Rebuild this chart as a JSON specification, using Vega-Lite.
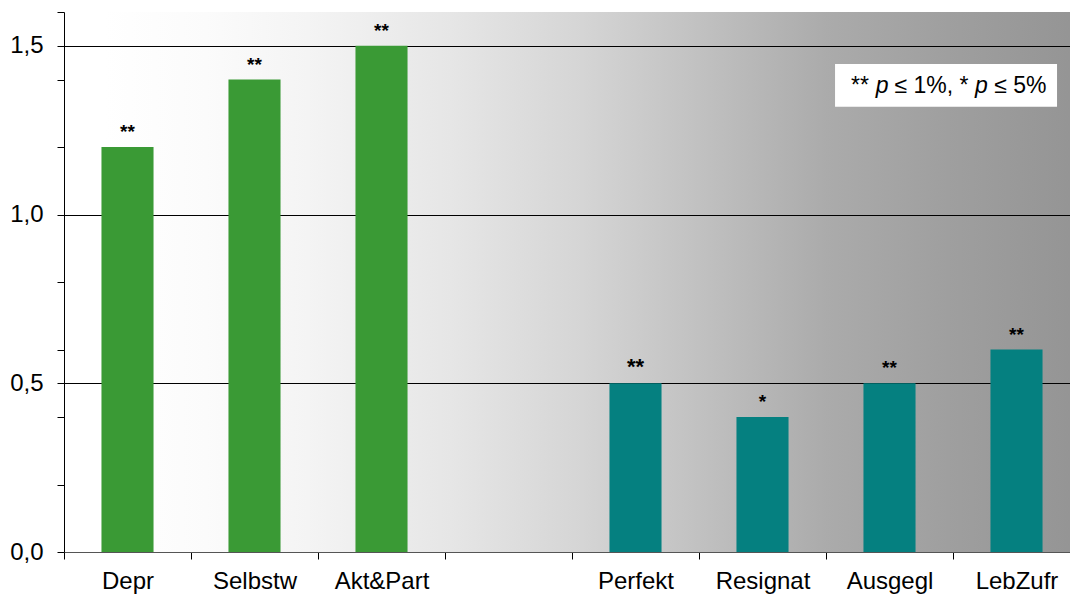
{
  "$schema": "https://vega.github.io/schema/vega-lite/v6.json",
  "width": 1016,
  "height": 540,
  "autosize": {"type": "none"},
  "padding": {"left": 64, "top": 12, "right": 0, "bottom": 42},
  "background": "white",
  "config": {
    "font": "Liberation Sans",
    "view": {
      "stroke": null,
      "fill": {
        "gradient": "linear", "x1": 0, "y1": 0, "x2": 1, "y2": 0,
        "stops": [
          {"offset": 0, "color": "#ffffff"},
          {"offset": 0.04, "color": "#ffffff"},
          {"offset": 0.14, "color": "#fbfbfb"},
          {"offset": 0.24, "color": "#f4f4f4"},
          {"offset": 0.38, "color": "#e6e6e6"},
          {"offset": 0.51, "color": "#d5d5d5"},
          {"offset": 0.63, "color": "#c0c0c0"},
          {"offset": 0.75, "color": "#ababab"},
          {"offset": 0.87, "color": "#9f9f9f"},
          {"offset": 1, "color": "#949494"}
        ]
      }
    }
  },
  "datasets": {
    "bars": [
      {"cat": "Depr", "v": 1.2, "grp": "A", "sig": "**"},
      {"cat": "Selbstw", "v": 1.4, "grp": "A", "sig": "**"},
      {"cat": "Akt&Part", "v": 1.5, "grp": "A", "sig": "**"},
      {"cat": "Perfekt", "v": 0.5, "grp": "B", "sig": "**"},
      {"cat": "Resignat", "v": 0.4, "grp": "B", "sig": "*"},
      {"cat": "Ausgegl", "v": 0.5, "grp": "B", "sig": "**"},
      {"cat": "LebZufr", "v": 0.6, "grp": "B", "sig": "**"}
    ],
    "note": [
      {"piece": "**", "pos": 0.7746, "kind": "normal"},
      {"piece": "p", "pos": 0.7990, "kind": "italic"},
      {"piece": "≤ 1%, *", "pos": 0.8174, "kind": "normal"},
      {"piece": "p", "pos": 0.8966, "kind": "italic"},
      {"piece": "≤ 5%", "pos": 0.9155, "kind": "normal"}
    ],
    "box": [
      {"x0": 0.7589, "x1": 0.9774, "y0": 1.319, "y1": 1.446}
    ]
  },
  "layer": [
    {
      "data": {"name": "bars"},
      "encoding": {
        "x": {
          "field": "cat", "type": "nominal",
          "scale": {"domain": ["Depr", "Selbstw", "Akt&Part", " ", "Perfekt", "Resignat", "Ausgegl", "LebZufr"], "paddingInner": 0, "paddingOuter": 0},
          "axis": {
            "title": null, "labelAngle": 0, "labelFontSize": 24, "labelColor": "black",
            "labelFont": "Liberation Sans",
            "tickBand": "extent", "tickSize": 7, "tickColor": "black",
            "domainColor": "#555555", "labelPadding": 10, "grid": false
          }
        },
        "y": {
          "field": "v", "type": "quantitative",
          "scale": {"domain": [0, 1.6], "nice": false, "zero": true},
          "axis": {
            "title": null,
            "values": [0, 0.2, 0.4, 0.5, 0.6, 0.8, 1, 1.2, 1.4, 1.5, 1.6],
            "labelExpr": "abs(datum.value*2-round(datum.value*2))<0.001 ? replace(format(datum.value,'.1f'),'.',',') : ''",
            "labelFontSize": 24, "labelColor": "black", "labelFont": "Liberation Sans",
            "labelPadding": 14, "tickSize": 7,
            "domainColor": "black", "tickColor": "black",
            "grid": true, "gridColor": "black", "gridWidth": 1,
            "gridOpacity": {"condition": {"test": "abs(datum.value*2-round(datum.value*2))<0.001 && datum.value>0 && datum.value<1.55", "value": 1}, "value": 0},
            "encode": {"ticks": {"update": {"x2": {"signal": "abs(datum.value*2-round(datum.value*2))<0.001 ? -7 : 7"}}}}
          }
        }
      },
      "layer": [
        {
          "mark": {"type": "bar", "width": {"band": 0.41}},
          "encoding": {
            "color": {"field": "grp", "type": "nominal", "scale": {"domain": ["A", "B"], "range": ["#3a9a35", "#058080"]}, "legend": null}
          }
        },
        {
          "mark": {"type": "text", "baseline": "alphabetic", "dy": -9, "fontWeight": "bold", "color": "black", "font": "Liberation Sans"},
          "encoding": {
            "text": {"field": "sig"},
            "size": {"condition": {"test": "datum.cat === 'Perfekt'", "value": 22}, "value": 19}
          }
        }
      ]
    },
    {
      "data": {"name": "box"},
      "mark": {"type": "rect", "color": "white"},
      "encoding": {
        "x": {"field": "x0", "type": "quantitative", "scale": {"domain": [0, 1], "nice": false, "zero": false}, "axis": null},
        "x2": {"field": "x1"},
        "y": {"field": "y0", "type": "quantitative"},
        "y2": {"field": "y1"}
      }
    },
    {
      "data": {"name": "note"},
      "transform": [{"filter": "datum.kind === 'normal'"}],
      "mark": {"type": "text", "align": "left", "baseline": "alphabetic", "fontSize": 23, "color": "black", "font": "Liberation Sans"},
      "encoding": {
        "x": {"field": "pos", "type": "quantitative", "scale": {"domain": [0, 1], "nice": false, "zero": false}, "axis": null},
        "y": {"datum": 1.36, "type": "quantitative"},
        "text": {"field": "piece"}
      }
    },
    {
      "data": {"name": "note"},
      "transform": [{"filter": "datum.kind === 'italic'"}],
      "mark": {"type": "text", "align": "left", "baseline": "alphabetic", "fontSize": 23, "fontStyle": "italic", "color": "black", "font": "Liberation Sans"},
      "encoding": {
        "x": {"field": "pos", "type": "quantitative", "scale": {"domain": [0, 1], "nice": false, "zero": false}, "axis": null},
        "y": {"datum": 1.36, "type": "quantitative"},
        "text": {"field": "piece"}
      }
    }
  ],
  "resolve": {"scale": {"x": "independent"}}
}
